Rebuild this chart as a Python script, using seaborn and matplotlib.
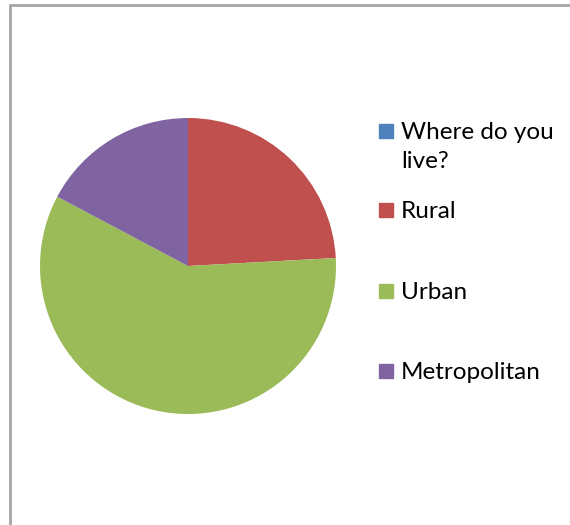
import matplotlib
matplotlib.use("Agg")
import matplotlib.pyplot as plt
import seaborn as sns
from matplotlib.lines import Line2D

sns.set_theme(style="white")
plt.rcParams["font.family"] = ["Lato", "DejaVu Sans"]

categories = ["Where do you\nlive?", "Rural", "Urban", "Metropolitan"]
counts = [0, 7, 17, 5]
colors = ["#4F81BD", "#C0504D", "#9BBB59", "#8064A2"]

W, H = 570, 525
fig = plt.figure(figsize=(W / 100, H / 100), dpi=100)
fig.patch.set_facecolor("white")

# pie axes: center (188, 266), radius 148 px
r = 148
cx, cy = 188, 266
ax = fig.add_axes([(cx - r) / W, (H - cy - r) / H, 2 * r / W, 2 * r / H])
wedges, _ = ax.pie(counts, colors=colors, startangle=90, counterclock=False,
                   radius=1.0, wedgeprops=dict(linewidth=0))
ax.set_xlim(-1, 1)
ax.set_ylim(-1, 1)
ax.set_aspect("equal")
ax.axis("off")

# chart area frame (top and left edges visible)
fig.add_artist(Line2D([10 / W, 1.0], [1 - 5 / H, 1 - 5 / H], color="#a6a6a6", lw=2.0,
                      transform=fig.transFigure))
fig.add_artist(Line2D([10 / W, 10 / W], [1 - 5 / H, 0.0], color="#a6a6a6", lw=2.0,
                      transform=fig.transFigure))

# legend entries
rows = [131, 210, 291, 371]
for cat, col, y in zip(categories, colors, rows):
    fig.patches.append(plt.Rectangle((379 / W, 1 - (y + 7) / H), 14 / W, 14 / H,
                                     transform=fig.transFigure, color=col))
    fig.text(401 / W, 1 - (y - 9) / H, cat, fontsize=17.5, color="black",
             va="top", ha="left", linespacing=1.5)

fig.savefig("out.png", dpi=100)
